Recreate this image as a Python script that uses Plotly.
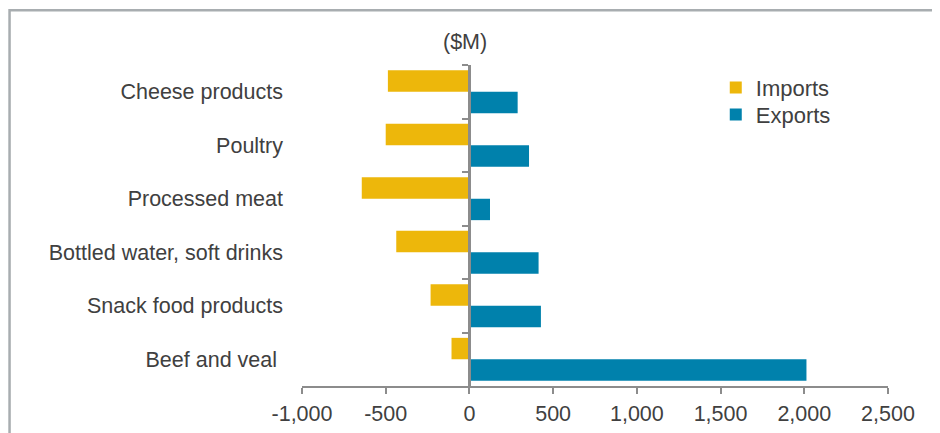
import plotly.graph_objects as go

categories = ["Cheese products", "Poultry", "Processed meat",
              "Bottled water, soft drinks", "Snack food products", "Beef and veal "]
imports = [-487, -500, -643, -437, -232, -107]
exports = [288, 356, 123, 413, 427, 2013]
x_tickvals = [-1000, -500, 0, 500, 1000, 1500, 2000, 2500]
x_ticktext = ["-1,000", "-500", "0", "500", "1,000", "1,500", "2,000", "2,500"]

IMP_COLOR = "#EDB70B"
EXP_COLOR = "#0081AC"
AXIS_COLOR = "#8C8C8C"
TEXT_COLOR = "#404040"
FONT = "Liberation Sans, Arial, sans-serif"
FS = 21.5

# page body has an 8px default offset; layout compensates for it
OFF = 8
ML, MR, MT, MB = 293.6, 59.5, 57.3, 55.3
PW = 940 - ML - MR
PH = 433 - MT - MB


def py(screen_y):
    return 1 - (screen_y - OFF - MT) / PH


def px(screen_x):
    return (screen_x - OFF - ML) / PW


fig = go.Figure()
fig.add_trace(go.Bar(y=categories, x=imports, name="Imports", orientation="h",
                     marker=dict(color=IMP_COLOR, line=dict(width=0)), legend="legend"))
fig.add_trace(go.Bar(y=categories, x=exports, name="Exports", orientation="h",
                     marker=dict(color=EXP_COLOR, line=dict(width=0)), legend="legend2"))
# invisible helper trace to carry the zero-position category axis
fig.add_trace(go.Scatter(y=categories, x=[0] * len(categories), yaxis="y2",
                         mode="markers", marker=dict(opacity=0), showlegend=False,
                         hoverinfo="skip"))

leg_common = dict(xanchor="left", yanchor="middle", bgcolor="rgba(0,0,0,0)",
                  font=dict(size=22, color=TEXT_COLOR), itemwidth=30)

fig.update_layout(
    width=940, height=433,
    margin=dict(l=ML, r=MR, t=MT, b=MB, pad=0),
    paper_bgcolor="white", plot_bgcolor="white",
    font=dict(family=FONT, size=FS, color=TEXT_COLOR),
    barmode="group", bargap=0.2, bargroupgap=0,
    showlegend=True,
    legend=dict(x=px(716), y=py(88), **leg_common),
    legend2=dict(x=px(716), y=py(115), **leg_common),
    xaxis=dict(range=[-1000, 2500], tickvals=x_tickvals, ticktext=x_ticktext,
               showgrid=False, zeroline=False, showline=True, linecolor=AXIS_COLOR,
               linewidth=2, ticks="outside", ticklen=6, tickwidth=1.5,
               tickcolor=AXIS_COLOR, tickfont=dict(size=FS, color=TEXT_COLOR),
               ticklabelstandoff=1, fixedrange=True),
    yaxis=dict(type="category", categoryarray=categories, categoryorder="array",
               range=[len(categories) - 0.5, -0.5], showgrid=False, zeroline=False,
               showline=False, ticks="", ticklabelstandoff=18,
               tickfont=dict(size=FS, color=TEXT_COLOR)),
    yaxis2=dict(type="category", categoryarray=categories, categoryorder="array",
                range=[len(categories) - 0.5, -0.5], overlaying="y", anchor="free",
                position=1000 / 3500, side="left", showgrid=False, zeroline=False,
                showline=True, linecolor=AXIS_COLOR, linewidth=3,
                ticks="outside", ticklen=6, tickwidth=2, tickcolor=AXIS_COLOR,
                tickson="boundaries", showticklabels=False),
)

fig.add_annotation(text="($M)", xref="x", x=-25, yref="paper", y=py(42),
                   showarrow=False, font=dict(size=FS, color=TEXT_COLOR),
                   xanchor="center", yanchor="middle")

# outer frame (top and left edges visible)
fig.add_shape(type="rect", xref="paper", yref="paper",
              x0=px(8.7), x1=1.2, y0=-0.3, y1=py(10.7),
              line=dict(color="#A8ADB0", width=2.5), layer="below")

fig.write_html("out.html")
